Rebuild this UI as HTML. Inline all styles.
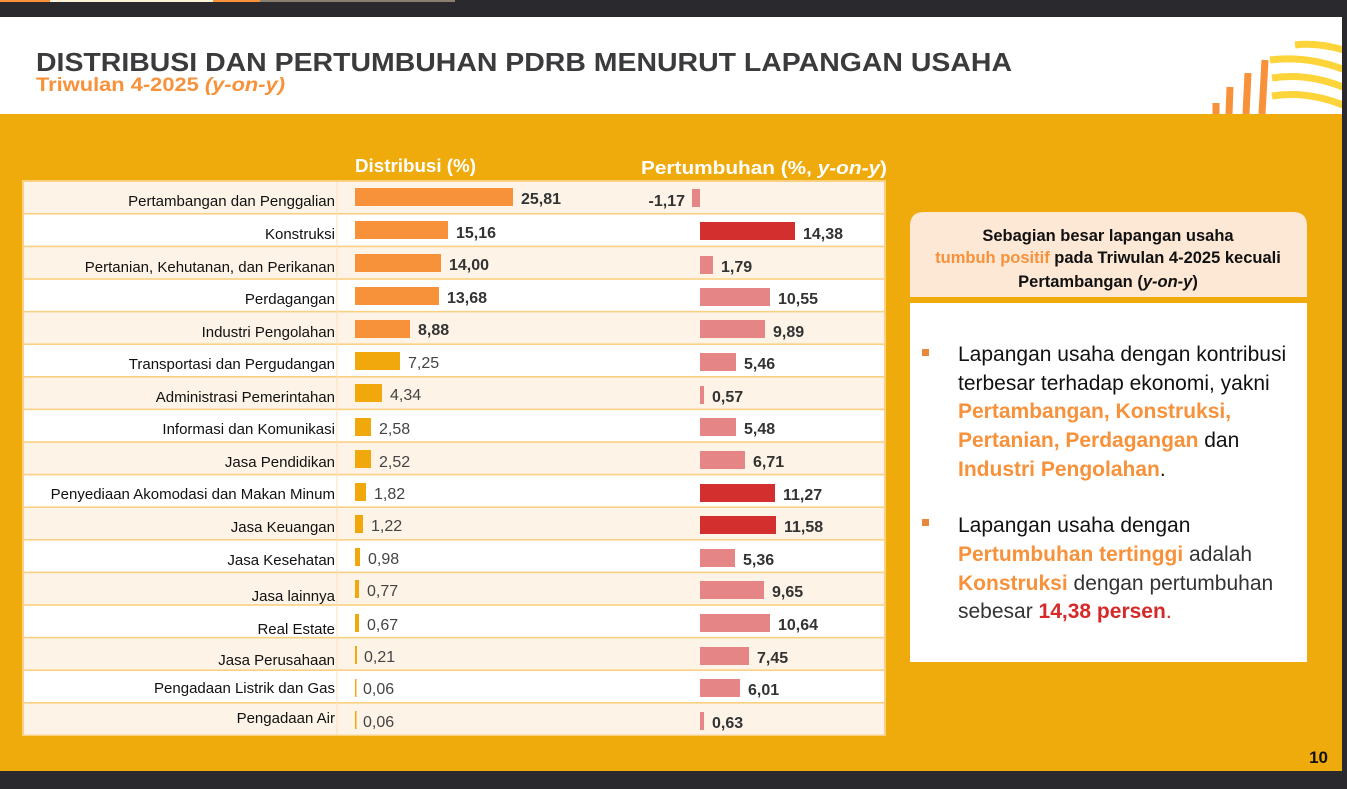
<!DOCTYPE html>
<html><head><meta charset="utf-8"><style>
html,body{margin:0;padding:0;background:#2a292e;}
svg{display:block;}
text{font-family:"Liberation Sans",sans-serif;}
</style></head><body>
<svg width="1347" height="789" viewBox="0 0 1347 789" xmlns="http://www.w3.org/2000/svg">
<rect x="0" y="0" width="1347" height="789" fill="#2a292e"/>
<rect x="0" y="0" width="50" height="2" fill="#f7913a"/>
<rect x="50" y="0" width="163" height="2" fill="#fdf3d8"/>
<rect x="213" y="0" width="47" height="2" fill="#f7913a"/>
<rect x="260" y="0" width="195" height="2" fill="#8a8070"/>
<rect x="0" y="17" width="1342" height="97" fill="#ffffff"/>
<rect x="0" y="114" width="1342" height="657" fill="#efab0c"/>
<defs><clipPath id="dc"><rect x="1150" y="17" width="192" height="97"/></clipPath></defs>
<g clip-path="url(#dc)">
<g fill="none" stroke="#fdd43a" stroke-width="7">
<path d="M1270 60 Q1310 55 1350 72"/>
<path d="M1272 78 Q1310 72 1350 90"/>
<path d="M1272 96 Q1310 90 1350 108"/>
<path d="M1295 45 Q1320 42 1350 52"/>
</g>
<g stroke="#f7913a" stroke-width="7">
<line x1="1265" y1="60" x2="1262" y2="114"/>
<line x1="1248" y1="73" x2="1246" y2="114"/>
<line x1="1230" y1="87" x2="1229" y2="114"/>
<line x1="1216" y1="103" x2="1216" y2="114"/>
</g>
</g>
<text x="36" y="71" font-size="26" font-weight="bold" fill="#3b3b3d" textLength="976" lengthAdjust="spacingAndGlyphs">DISTRIBUSI DAN PERTUMBUHAN PDRB MENURUT LAPANGAN USAHA</text>
<text x="36" y="91" font-size="19" font-weight="bold" fill="#f7913a" textLength="249" lengthAdjust="spacingAndGlyphs">Triwulan 4-2025 <tspan font-style="italic">(y-on-y)</tspan></text>
<text x="355" y="172" font-size="18" font-weight="bold" fill="#fff" textLength="121" lengthAdjust="spacingAndGlyphs">Distribusi (%)</text>
<text x="641" y="174" font-size="18" font-weight="bold" fill="#fff" textLength="246" lengthAdjust="spacingAndGlyphs">Pertumbuhan (%, <tspan font-style="italic">y-on-y</tspan>)</text>
<rect x="22" y="180" width="864" height="556" fill="#fcd083"/>
<g fill="#fdf3e7">
<rect x="24" y="182" width="860" height="31"/>
<rect x="24" y="247.2" width="860" height="31"/>
<rect x="24" y="312.4" width="860" height="31"/>
<rect x="24" y="377.6" width="860" height="31"/>
<rect x="24" y="442.8" width="860" height="31"/>
<rect x="24" y="508" width="860" height="31"/>
<rect x="24" y="573.2" width="860" height="31"/>
<rect x="24" y="638.4" width="860" height="31"/>
<rect x="24" y="703.6" width="860" height="31"/>
</g>
<g fill="#ffffff">
<rect x="24" y="214.6" width="860" height="31"/>
<rect x="24" y="279.8" width="860" height="31"/>
<rect x="24" y="345" width="860" height="31"/>
<rect x="24" y="410.2" width="860" height="31"/>
<rect x="24" y="475.4" width="860" height="31"/>
<rect x="24" y="540.6" width="860" height="31"/>
<rect x="24" y="605.8" width="860" height="31"/>
<rect x="24" y="671" width="860" height="31"/>
</g>
<line x1="337" y1="182" x2="337" y2="735" stroke="#fbe2b5" stroke-width="1"/>
<g font-size="15" fill="#111" text-anchor="end">
<text x="335" y="206">Pertambangan dan Penggalian</text>
<text x="335" y="239">Konstruksi</text>
<text x="335" y="272">Pertanian, Kehutanan, dan Perikanan</text>
<text x="335" y="304">Perdagangan</text>
<text x="335" y="337">Industri Pengolahan</text>
<text x="335" y="369">Transportasi dan Pergudangan</text>
<text x="335" y="402">Administrasi Pemerintahan</text>
<text x="335" y="434">Informasi dan Komunikasi</text>
<text x="335" y="467">Jasa Pendidikan</text>
<text x="335" y="499">Penyediaan Akomodasi dan Makan Minum</text>
<text x="335" y="532">Jasa Keuangan</text>
<text x="335" y="565">Jasa Kesehatan</text>
<text x="335" y="601">Jasa lainnya</text>
<text x="335" y="634">Real Estate</text>
<text x="335" y="665">Jasa Perusahaan</text>
<text x="335" y="693">Pengadaan Listrik dan Gas</text>
<text x="335" y="723">Pengadaan Air</text>
</g>
<g fill="#f7913a">
<rect x="355" y="188" width="158" height="18"/>
<rect x="355" y="221" width="93" height="18"/>
<rect x="355" y="254" width="86" height="18"/>
<rect x="355" y="287" width="84" height="18"/>
<rect x="355" y="320" width="55" height="18"/>
</g>
<g fill="#f0a80c">
<rect x="355" y="352" width="45" height="18"/>
<rect x="355" y="384" width="27" height="18"/>
<rect x="355" y="418" width="16" height="18"/>
<rect x="355" y="450" width="16" height="18"/>
<rect x="355" y="483" width="11" height="18"/>
<rect x="355" y="515" width="8" height="18"/>
<rect x="355" y="548" width="5" height="18"/>
<rect x="355" y="580" width="4" height="18"/>
<rect x="355" y="614" width="4" height="18"/>
<rect x="355" y="646" width="2" height="18"/>
<rect x="355" y="679" width="1.5" height="18"/>
<rect x="355" y="711" width="1.5" height="18"/>
</g>
<g font-size="16" font-weight="bold" fill="#333">
<text x="521" y="204">25,81</text>
<text x="456" y="238">15,16</text>
<text x="449" y="270">14,00</text>
<text x="447" y="303">13,68</text>
<text x="418" y="335">8,88</text>
</g>
<g font-size="16" fill="#444">
<text x="408" y="368">7,25</text>
<text x="390" y="400">4,34</text>
<text x="379" y="434">2,58</text>
<text x="379" y="467">2,52</text>
<text x="374" y="499">1,82</text>
<text x="371" y="531">1,22</text>
<text x="368" y="564">0,98</text>
<text x="367" y="596">0,77</text>
<text x="367" y="630">0,67</text>
<text x="364" y="662">0,21</text>
<text x="363" y="694">0,06</text>
<text x="363" y="727">0,06</text>
</g>
<g fill="#e58585">
<rect x="692" y="189" width="8" height="18"/>
<rect x="700" y="256" width="13" height="18"/>
<rect x="700" y="288" width="70" height="18"/>
<rect x="700" y="320" width="65" height="18"/>
<rect x="700" y="353" width="36" height="18"/>
<rect x="700" y="386" width="4" height="18"/>
<rect x="700" y="418" width="36" height="18"/>
<rect x="700" y="451" width="45" height="18"/>
<rect x="700" y="549" width="35" height="18"/>
<rect x="700" y="581" width="64" height="18"/>
<rect x="700" y="614" width="70" height="18"/>
<rect x="700" y="647" width="49" height="18"/>
<rect x="700" y="679" width="40" height="18"/>
<rect x="700" y="712" width="4" height="18"/>
</g>
<g fill="#d32f2f">
<rect x="700" y="222" width="95" height="18"/>
<rect x="700" y="484" width="75" height="18"/>
<rect x="700" y="516" width="76" height="18"/>
</g>
<g font-size="16" font-weight="bold" fill="#333">
<text x="685" y="206" text-anchor="end">-1,17</text>
<text x="803" y="239">14,38</text>
<text x="721" y="272">1,79</text>
<text x="778" y="304">10,55</text>
<text x="773" y="337">9,89</text>
<text x="744" y="369">5,46</text>
<text x="712" y="402">0,57</text>
<text x="744" y="434">5,48</text>
<text x="753" y="467">6,71</text>
<text x="783" y="500">11,27</text>
<text x="784" y="532">11,58</text>
<text x="743" y="565">5,36</text>
<text x="772" y="597">9,65</text>
<text x="778" y="630">10,64</text>
<text x="757" y="663">7,45</text>
<text x="748" y="695">6,01</text>
<text x="712" y="728">0,63</text>
</g>
<path d="M910 297 V226 Q910 212 924 212 H1293 Q1307 212 1307 226 V297 Z" fill="#fde8d6"/>
<rect x="910" y="303" width="397" height="359" fill="#ffffff"/>
<g font-size="16.5" font-weight="bold" text-anchor="middle" fill="#111">
<text x="1108" y="241">Sebagian besar lapangan usaha</text>
<text x="1108" y="263"><tspan fill="#f7913a">tumbuh positif</tspan> pada Triwulan 4-2025 kecuali</text>
<text x="1108" y="287">Pertambangan (<tspan font-style="italic">y-on-y</tspan>)</text>
</g>
<rect x="922" y="349" width="7" height="7" fill="#e8883a"/>
<rect x="922" y="519" width="7" height="7" fill="#e8883a"/>
<g font-size="21" fill="#111">
<text x="958" y="361">Lapangan usaha dengan kontribusi</text>
<text x="958" y="390">terbesar terhadap ekonomi, yakni</text>
<text x="958" y="418" font-weight="bold" fill="#f7913a">Pertambangan, Konstruksi,</text>
<text x="958" y="447"><tspan font-weight="bold" fill="#f7913a">Pertanian, Perdagangan</tspan> dan</text>
<text x="958" y="476"><tspan font-weight="bold" fill="#f7913a">Industri Pengolahan</tspan>.</text>
<text x="958" y="532">Lapangan usaha dengan</text>
<text x="958" y="561"><tspan font-weight="bold" fill="#f7913a">Pertumbuhan tertinggi</tspan> <tspan fill="#333">adalah</tspan></text>
<text x="958" y="590"><tspan font-weight="bold" fill="#f7913a">Konstruksi</tspan> <tspan fill="#333">dengan pertumbuhan</tspan></text>
<text x="958" y="618"><tspan fill="#333">sebesar </tspan><tspan font-weight="bold" fill="#d62a2a">14,38 persen</tspan><tspan fill="#d62a2a">.</tspan></text>
</g>
<text x="1328" y="763" font-size="17" font-weight="bold" fill="#111" text-anchor="end">10</text>
</svg>
</body></html>
